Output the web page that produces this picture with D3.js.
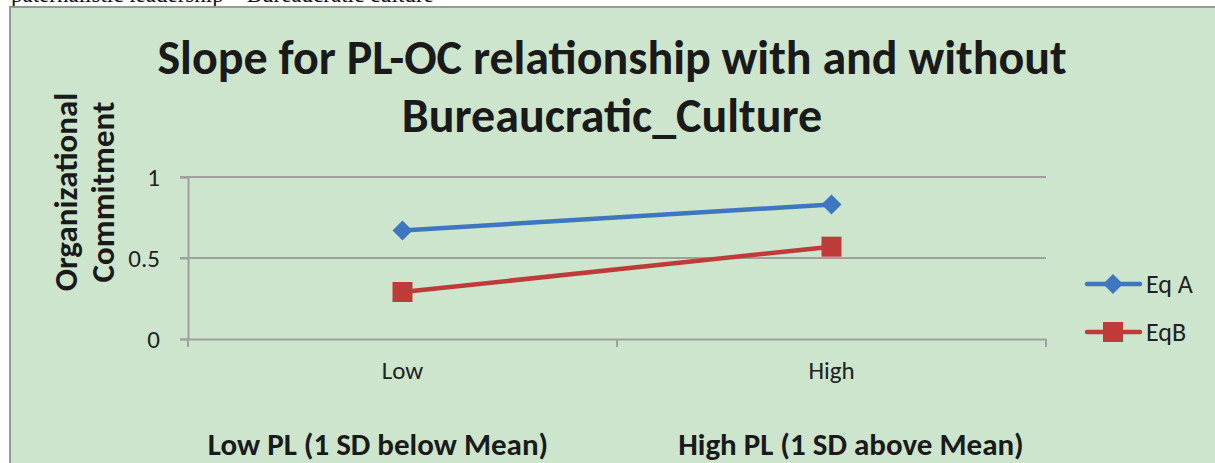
<!DOCTYPE html>
<html>
<head>
<meta charset="utf-8">
<script src="https://cdn.jsdelivr.net/npm/d3@7"></script>
<style>
  body { margin: 0; background: #fff; }
  svg { display: block; }
</style>
</head>
<body>
<script>
const categories = ['Low', 'High'];
const groupLabels = ['Low PL (1 SD below Mean)', 'High PL (1 SD above Mean)'];
const eqA = [0.67, 0.83];
const eqB = [0.29, 0.57];
const yTicks = [0, 0.5, 1];
const seriesNames = ['Eq A', 'EqB'];

const width = 1215, height = 463;
const font = 'Carlito, Calibri, "Open Sans", sans-serif';

const svg = d3.select('body').append('svg')
  .attr('width', width)
  .attr('height', height);

// cut-off caption line from the page above the chart
svg.append('text')
  .attr('x', 11).attr('y', 2)
  .style('font-family', '"Liberation Serif", serif')
  .style('font-size', '23px')
  .attr('fill', '#111')
  .text('paternalistic leadership \u2013 Bureaucratic culture');

// chart box
svg.append('rect')
  .attr('x', 10).attr('y', 7)
  .attr('width', width).attr('height', height)
  .attr('fill', '#cce5cc')
  .attr('stroke', '#999')
  .attr('stroke-width', 2);

const x = d3.scaleBand().domain(categories).range([188, 1046]);
const y = d3.scaleLinear().domain([0, 1]).range([339, 177]);

// gridlines
svg.append('g')
  .selectAll('line')
  .data(yTicks.filter(d => d > 0))
  .join('line')
    .attr('x1', 180).attr('x2', 1046)
    .attr('y1', d => y(d)).attr('y2', d => y(d))
    .attr('stroke', '#a0a0a0').attr('stroke-width', 2);

// y axis
const yAxis = svg.append('g')
  .attr('transform', 'translate(188,0)')
  .call(d3.axisLeft(y).tickValues(yTicks).tickSize(8).tickPadding(20).tickFormat(d3.format('')));
yAxis.select('.domain').attr('stroke', '#a0a0a0').attr('stroke-width', 2);
yAxis.selectAll('.tick line').attr('stroke', '#a0a0a0').attr('stroke-width', 2);
yAxis.selectAll('.tick text')
  .style('font-family', font).style('font-size', '25px').attr('fill', '#222');

// x axis
const xAxis = svg.append('g')
  .attr('transform', `translate(0,${y(0)})`)
  .call(d3.axisBottom(x).tickSize(0).tickPadding(22));
xAxis.select('.domain').attr('stroke', '#a0a0a0').attr('stroke-width', 2);
xAxis.selectAll('.tick text')
  .style('font-family', font).style('font-size', '25px').attr('fill', '#222');
// category boundary ticks
const bounds = [x.range()[0], ...categories.map(c => x(c) + x.bandwidth())];
svg.append('g')
  .selectAll('line')
  .data(bounds)
  .join('line')
    .attr('x1', d => d).attr('x2', d => d)
    .attr('y1', y(0)).attr('y2', y(0) + 8)
    .attr('stroke', '#a0a0a0').attr('stroke-width', 2);

const cx = c => x(c) + x.bandwidth() / 2;
const line = d3.line().x((d, i) => cx(categories[i])).y(d => y(d));

const series = [
  { name: seriesNames[0], values: eqA, color: '#3e76bf', rot: 45, size: 200 },
  { name: seriesNames[1], values: eqB, color: '#bf3b39', rot: 0, size: 400 }
];
const marker = d3.symbol().type(d3.symbolSquare);

series.forEach(s => {
  svg.append('path')
    .datum(s.values)
    .attr('d', line)
    .attr('fill', 'none')
    .attr('stroke', s.color)
    .attr('stroke-width', 4.5);
  svg.append('g')
    .selectAll('path')
    .data(s.values)
    .join('path')
      .attr('transform', (d, i) => `translate(${cx(categories[i])},${y(d)}) rotate(${s.rot})`)
      .attr('d', marker.size(s.size)())
      .attr('fill', s.color);
});

// legend
series.forEach((s, i) => {
  const ly = 284 + i * 48;
  svg.append('line')
    .attr('x1', 1087).attr('x2', 1140)
    .attr('y1', ly).attr('y2', ly)
    .attr('stroke', s.color).attr('stroke-width', 4.5)
    .attr('stroke-linecap', 'round');
  svg.append('path')
    .attr('transform', `translate(1113,${ly}) rotate(${s.rot})`)
    .attr('d', marker.size(s.size)())
    .attr('fill', s.color);
  svg.append('text')
    .attr('x', 1146).attr('y', ly + 9)
    .style('font-family', font).style('font-size', '26px').attr('fill', '#222')
    .text(s.name);
});

// title
svg.append('text')
  .attr('text-anchor', 'middle')
  .style('font-family', font).style('font-weight', 'bold').style('font-size', '48px')
  .attr('fill', '#1a1a1a')
  .selectAll('tspan')
  .data(['Slope for PL-OC relationship with and without', 'Bureaucratic_Culture'])
  .join('tspan')
    .attr('x', 612)
    .attr('y', (d, i) => 74 + i * 58)
    .text(d => d);

// y title
svg.append('text')
  .attr('transform', 'translate(0,192) rotate(-90)')
  .attr('text-anchor', 'middle')
  .style('font-family', font).style('font-weight', 'bold').style('font-size', '33px')
  .attr('fill', '#1a1a1a')
  .selectAll('tspan')
  .data(['Organizational', 'Commitment'])
  .join('tspan')
    .attr('x', 0)
    .attr('y', (d, i) => 77 + i * 37)
    .text(d => d);

// group labels under the axis
svg.append('g')
  .selectAll('text')
  .data(groupLabels)
  .join('text')
    .attr('x', (d, i) => [378, 851][i])
    .attr('y', 455)
    .attr('text-anchor', 'middle')
    .style('font-family', font).style('font-weight', 'bold').style('font-size', '31px')
    .attr('fill', '#1a1a1a')
    .text(d => d);
</script>
</body>
</html>
